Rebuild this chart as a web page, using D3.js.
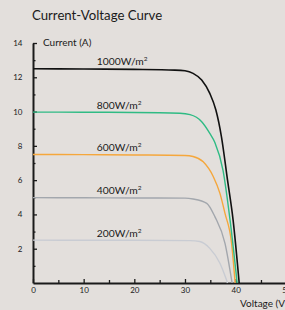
<!DOCTYPE html>
<html>
<head>
<meta charset="utf-8">
<script src="https://cdn.jsdelivr.net/npm/d3@7"></script>
<style>
  html, body { margin: 0; padding: 0; background: #e3dfdc; }
  svg { display: block; }
  text { font-family: Lato, "Open Sans", sans-serif; fill: #1a1a1a; }
</style>
</head>
<body>
<svg id="chart" width="285" height="310"></svg>
<script>
// ---- data ----
const irradianceLabels = ["1000W/m", "800W/m", "600W/m", "400W/m", "200W/m"];
const seriesColors = ["#111111", "#2fbb84", "#f5a73c", "#a3a7ad", "#c9ccd3"];

// voltage (V), current (A) points for each irradiance
const curve1000 = [[0,12.5],[10,12.48],[20,12.46],[28,12.42],[30,12.38],[31.6,12.23],[33.3,11.84],[34.9,11.06],[36.1,10.09],[37.2,8.53],[38.4,6.0],[39.5,3.67],[40.7,0]];
const curve800  = [[0,9.97],[10,9.96],[20,9.95],[29,9.9],[31,9.82],[33.3,9.41],[34.9,8.73],[35.9,8.2],[37.5,6.59],[38.9,3.67],[40.3,0]];
const curve600  = [[0,7.5],[10,7.49],[20,7.47],[30,7.44],[31.6,7.38],[33.6,7.07],[35.6,6.2],[36.9,5.23],[37.9,4.06],[39.2,2.31],[39.9,0]];
const curve400  = [[0,4.98],[10,4.97],[20,4.96],[30,4.95],[31.6,4.9],[34.3,4.65],[35.9,3.87],[37.9,2.31],[39.3,0]];
const curve200  = [[0,2.5],[10,2.49],[20,2.49],[31,2.47],[32.9,2.42],[34.9,2.02],[36.9,1.15],[38.2,0.17],[38.4,0]];
const curves = [curve1000, curve800, curve600, curve400, curve200];
const labelVoltage = 12.6;

const xMajorTicks = [0, 10, 20, 30, 40, 50];
const xMinorTicks = [5, 15, 25, 35, 45];
const yMajorTicks = [2, 4, 6, 8, 10, 12, 14];
const yMinorTicks = [1, 3, 5, 7, 9, 11, 13];

const titleText = "Current-Voltage Curve";
const yAxisTitle = "Current (A)";
const xAxisTitle = "Voltage (V)";

// ---- drawing ----
const svg = d3.select("#chart");
svg.append("rect").attr("width", 285).attr("height", 310).attr("fill", "#e3dfdc");

const x = d3.scaleLinear().domain([0, 50]).range([33, 286.3]);
const y = d3.scaleLinear().domain([0, 14]).range([283, 43]);

svg.append("text")
  .attr("x", 32).attr("y", 20)
  .attr("font-size", 13.2)
  .text(titleText);

// minor ticks
svg.append("g").attr("transform", `translate(${x(0)},0)`)
  .call(d3.axisLeft(y).tickValues(yMinorTicks).tickSize(-2.5).tickFormat(""))
  .call(g => g.select(".domain").remove())
  .call(g => g.selectAll("line").attr("stroke", "#1a1a1a").attr("stroke-width", 1.3));
svg.append("g").attr("transform", `translate(0,${y(0)})`)
  .call(d3.axisBottom(x).tickValues(xMinorTicks).tickSize(-3).tickFormat(""))
  .call(g => g.select(".domain").remove())
  .call(g => g.selectAll("line").attr("stroke", "#1a1a1a").attr("stroke-width", 1.3));

// major axes
svg.append("g").attr("transform", `translate(${x(0)},0)`)
  .call(d3.axisLeft(y).tickValues(yMajorTicks).tickSize(-4).tickSizeOuter(0).tickPadding(10.5))
  .call(g => g.select(".domain").attr("stroke", "#1a1a1a").attr("stroke-width", 2))
  .call(g => g.selectAll("line").attr("stroke", "#1a1a1a").attr("stroke-width", 1.3))
  .call(g => g.selectAll("text").attr("font-family", "Lato, sans-serif").attr("font-size", 8).attr("fill", "#1a1a1a"));

svg.append("g").attr("transform", `translate(0,${y(0)})`)
  .call(d3.axisBottom(x).tickValues(xMajorTicks).tickSize(-4).tickSizeOuter(0).tickPadding(4.5))
  .call(g => g.select(".domain").attr("stroke", "#1a1a1a").attr("stroke-width", 2))
  .call(g => g.selectAll("line").attr("stroke", "#1a1a1a").attr("stroke-width", 1.3))
  .call(g => g.selectAll("text").attr("font-family", "Lato, sans-serif").attr("font-size", 8).attr("fill", "#1a1a1a"));

svg.append("text")
  .attr("x", 43).attr("y", 45.5)
  .attr("font-size", 10)
  .text(yAxisTitle);

svg.append("text")
  .attr("x", 240).attr("y", 306.5)
  .attr("font-size", 10)
  .text(xAxisTitle);

const line = d3.line()
  .x(d => x(d[0]))
  .y(d => y(d[1]))
  .curve(d3.curveMonotoneX);

// draw lighter curves first so black sits on top
const order = [4, 3, 2, 1, 0];
order.forEach(i => {
  svg.append("path")
    .datum(curves[i])
    .attr("fill", "none")
    .attr("stroke", seriesColors[i])
    .attr("stroke-width", i === 0 ? 1.6 : 1.4)
    .attr("d", line);
});

curves.forEach((c, i) => {
  const t = svg.append("text")
    .attr("x", x(labelVoltage))
    .attr("y", y(c[0][1]) - 3.5)
    .attr("font-size", 10.3);
  t.append("tspan").text(irradianceLabels[i]);
  t.append("tspan").attr("font-size", 6.5).attr("dy", -4).text("2");
});
</script>
</body>
</html>
